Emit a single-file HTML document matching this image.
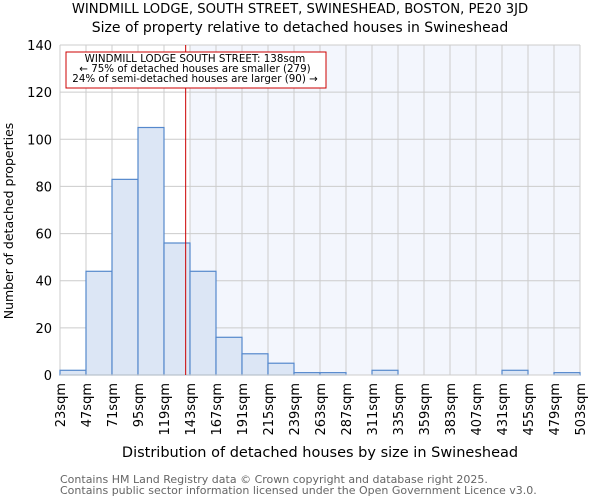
<!DOCTYPE html>
<html><head><meta charset="utf-8"><style>
body{margin:0;background:#fff;font-family:"DejaVu Sans","Liberation Sans",sans-serif;}
svg text{font-family:"DejaVu Sans","Liberation Sans",sans-serif;}
</style></head><body>
<svg id="chart" width="600" height="500" xmlns="http://www.w3.org/2000/svg">
<text x="300" y="13" text-anchor="middle" font-size="13.2">WINDMILL LODGE, SOUTH STREET, SWINESHEAD, BOSTON, PE20 3JD</text>
<text x="300" y="32" text-anchor="middle" font-size="14">Size of property relative to detached houses in Swineshead</text>
<g id="plot"></g>
<text x="320" y="457" text-anchor="middle" font-size="14.5">Distribution of detached houses by size in Swineshead</text>
<text transform="translate(13,221) rotate(-90)" text-anchor="middle" font-size="12.5">Number of detached properties</text>
<text x="60" y="483" font-size="11" fill="#666">Contains HM Land Registry data © Crown copyright and database right 2025.</text>
<text x="60" y="494" font-size="11" fill="#666">Contains public sector information licensed under the Open Government Licence v3.0.</text>
</svg>
<script>
const binStarts=[23,47,71,95,119,143,167,191,215,239,263,287,311,335,359,383,407,431,455,479];
const counts=[2,44,83,105,56,44,16,9,5,1,1,0,2,0,0,0,0,2,0,1];
const tickLabels=["23sqm","47sqm","71sqm","95sqm","119sqm","143sqm","167sqm","191sqm","215sqm","239sqm","263sqm","287sqm","311sqm","335sqm","359sqm","383sqm","407sqm","431sqm","455sqm","479sqm","503sqm"];
const yTicks=[0,20,40,60,80,100,120,140];
const propertySize=139;
const shadeFrom=143;
const NS="http://www.w3.org/2000/svg";
const X0=60,X1=580,Y0=375,Y1=45,xmin=23,xmax=503,ymax=140;
const xs=v=>X0+(v-xmin)/(xmax-xmin)*(X1-X0);
const ys=v=>Y0-v/ymax*(Y0-Y1);
const g=document.getElementById('plot');
function mk(t,a){const e=document.createElementNS(NS,t);for(const k in a)e.setAttribute(k,a[k]);g.appendChild(e);return e;}
let sh=mk('rect',{x:xs(shadeFrom),y:Y1,width:X1-xs(shadeFrom),height:Y0-Y1,fill:'#f3f6fd'});


yTicks.forEach(v=>{
 const l=mk('line',{x1:X0,x2:X1,y1:ys(v),y2:ys(v),stroke:'#ccc','stroke-width':1});
 
 
 const t=mk('text',{x:X0-8,y:ys(v)+5,'text-anchor':'end','font-size':13});
 t.textContent=v;
 
 
});
tickLabels.forEach((s,i)=>{
 const v=xmin+i*24;
 const l=mk('line',{x1:xs(v),x2:xs(v),y1:Y1,y2:Y0,stroke:'#ccc','stroke-width':1});
 
 
 const t=mk('text',{transform:`translate(${xs(v)+5},${Y0+8}) rotate(-90)`,'text-anchor':'end','font-size':13});
 t.textContent=s;
 
 
});
binStarts.forEach((b,i)=>{
 const r=mk('rect',{x:xs(b),y:ys(counts[i]),width:xs(b+24)-xs(b),height:Y0-ys(counts[i]),fill:'#dce6f5',stroke:'#5588cc','stroke-width':1.2});
 
 
});
let ax=mk('line',{x1:X0,x2:X1,y1:Y0,y2:Y0,stroke:'#ccc','stroke-width':1});


let ml=mk('line',{x1:xs(propertySize),x2:xs(propertySize),y1:Y1,y2:Y0,stroke:'#cc0000','stroke-width':1});


let box=mk('rect',{x:66,y:52,width:260,height:36,fill:'#fff',stroke:'#cc0000','stroke-width':1});


["WINDMILL LODGE SOUTH STREET: 138sqm","← 75% of detached houses are smaller (279)","24% of semi-detached houses are larger (90) →"].forEach((s,i)=>{
 const t=mk('text',{x:195,y:62+i*10,'text-anchor':'middle','font-size':10.3});
 t.textContent=s;
 
 
});
</script>
</body></html>
